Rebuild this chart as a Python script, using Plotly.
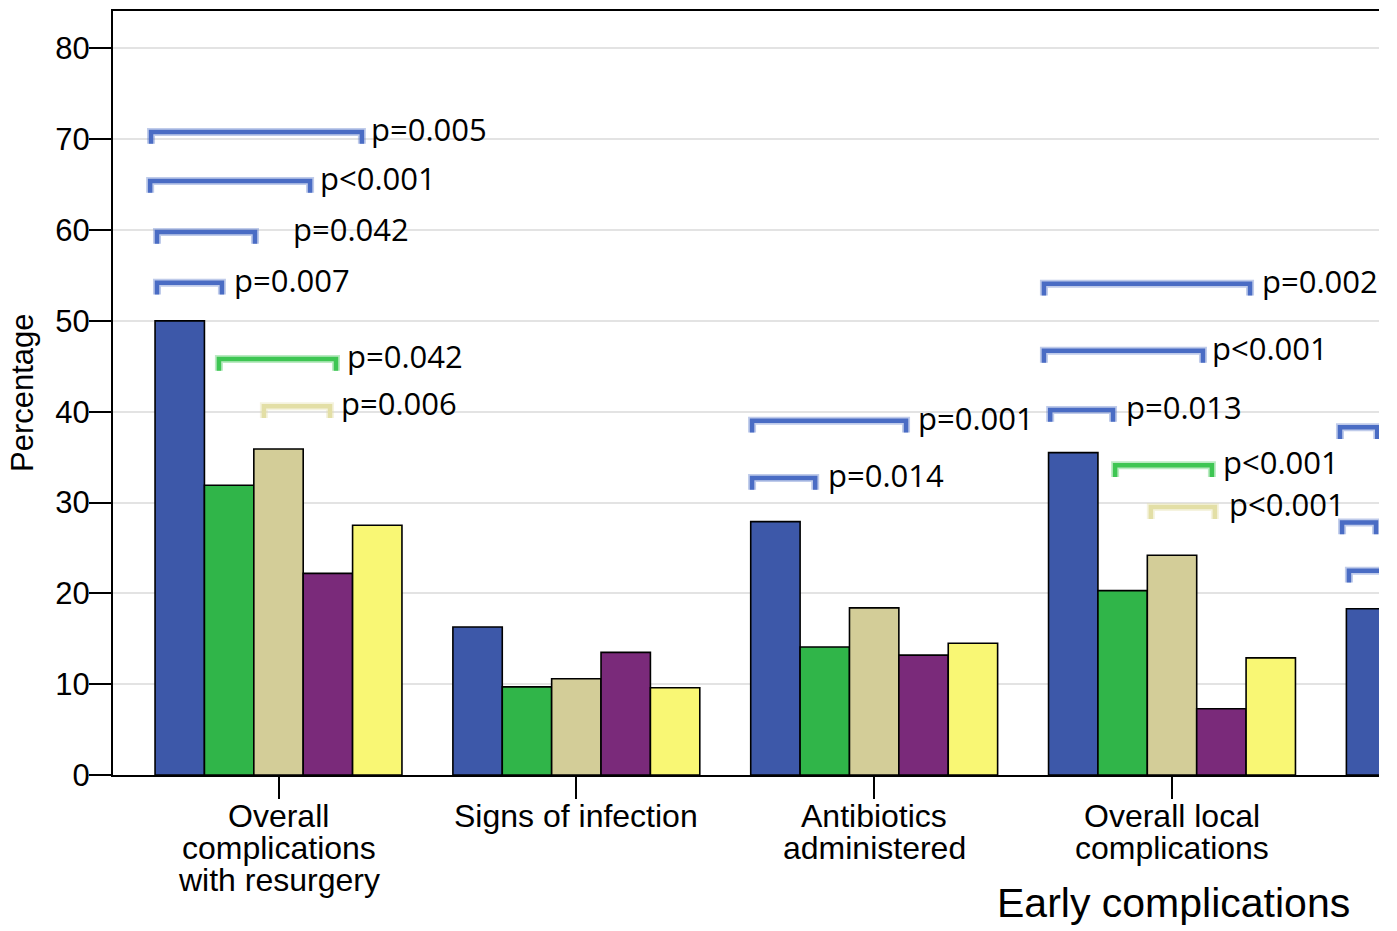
import numpy as np
import plotly.graph_objects as go

# Percentages per outcome category (five patient groups)
categories = [
    ["Overall", "complications", "with resurgery"],
    ["Signs of infection"],
    ["Antibiotics", "administered"],
    ["Overall local", "complications"],
]
group_a = [50.0, 16.3, 27.9, 35.5, 18.3]
group_b = [31.9, 9.7, 14.1, 20.3]
group_c = [35.9, 10.6, 18.4, 24.2]
group_d = [22.2, 13.5, 13.2, 7.3]
group_e = [27.5, 9.6, 14.5, 12.9]

series = [
    ("Group A", group_a, "#3d58a9"),
    ("Group B", group_b, "#30b549"),
    ("Group C", group_c, "#d3cd98"),
    ("Group D", group_d, "#7a2a7a"),
    ("Group E", group_e, "#f9f774"),
]

# Significance brackets: (x start, x end, level, label, colour, label x)
BLUE, GREEN, TAN = "#4a6cc4", "#3ec653", "#e3dfa6"
brackets = [
    (-0.428, 0.280, 70.8, "p=0.005", BLUE, 0.304),
    (-0.431, 0.106, 65.4, "p<0.001", BLUE, 0.133),
    (-0.408, -0.079, 59.8, "p=0.042", BLUE, 0.042),
    (-0.408, -0.190, 54.2, "p=0.007", BLUE, -0.156),
    (-0.200, 0.193, 45.8, "p=0.042", GREEN, 0.223),
    (-0.049, 0.173, 40.6, "p=0.006", TAN, 0.203),
    (1.590, 2.107, 39.0, "p=0.001", BLUE, 2.140),
    (1.590, 1.802, 32.7, "p=0.014", BLUE, 1.839),
    (2.570, 3.262, 54.1, "p=0.002", BLUE, 3.296),
    (2.570, 3.104, 46.7, "p<0.001", BLUE, 3.128),
    (2.591, 2.802, 40.2, "p=0.013", BLUE, 2.839),
    (2.809, 3.134, 34.1, "p<0.001", GREEN, 3.164),
    (2.929, 3.144, 29.5, "p<0.001", TAN, 3.185),
    (3.564, 3.689, 38.3, "", BLUE, None),
    (3.571, 3.685, 27.8, "", BLUE, None),
    (3.594, 3.800, 22.5, "", BLUE, None),
]
DROP = 1.3

fig = go.Figure()
for name, vals, col in series:
    fig.add_trace(go.Bar(
        x=np.arange(len(vals)), y=vals, name=name,
        marker=dict(color=col, line=dict(color="black", width=1.6)),
        showlegend=False,
    ))

shapes = []
annotations = []
for x0, x1, lvl, label, col, tx in brackets:
    path = f"M {x0},{lvl - DROP} L {x0},{lvl} L {x1},{lvl} L {x1},{lvl - DROP}"
    # soft halo under each bracket
    shapes.append(dict(type="path", path=path, xref="x", yref="y",
                       line=dict(color=col, width=8), opacity=0.35, layer="above"))
    shapes.append(dict(type="path", path=path, xref="x", yref="y",
                       line=dict(color=col, width=4.5), layer="above"))
    if label:
        annotations.append(dict(x=tx, y=lvl, xref="x", yref="y", text=label,
                                showarrow=False, xanchor="left", yanchor="middle",
                                yshift=3,
                                font=dict(family="Open Sans", size=31, color="black")))

# Category labels, one line per annotation for tight line spacing
for i, lines in enumerate(categories):
    for k, line in enumerate(lines):
        annotations.append(dict(x=i, y=0, xref="x", yref="paper", text=line,
                                showarrow=False, xanchor="center", yanchor="middle",
                                yshift=-(41 + 32 * k),
                                font=dict(family="Liberation Sans", size=32, color="black")))

annotations.append(dict(x=0.838, y=0, xref="paper", yref="paper", text="Early complications",
                        showarrow=False, xanchor="center", yanchor="middle", yshift=-128,
                        font=dict(family="Liberation Sans", size=41, color="black")))
annotations.append(dict(x=0, y=0.5, xref="paper", yref="paper", text="Percentage",
                        showarrow=False, xanchor="center", yanchor="middle", xshift=-91,
                        textangle=-90,
                        font=dict(family="Liberation Sans", size=31, color="black")))

fig.update_layout(
    width=1397, height=931,
    margin=dict(l=113, r=18, t=9, b=156),
    paper_bgcolor="white", plot_bgcolor="white",
    barmode="group", bargap=0.171, bargroupgap=0,
    shapes=shapes, annotations=annotations,
    xaxis=dict(range=[-0.5557, 3.695], tickvals=list(range(len(categories))),
               ticktext=[""] * len(categories), ticks="outside", ticklen=22,
               tickwidth=2, tickcolor="black", showline=True, linecolor="black",
               linewidth=2, mirror=True, showgrid=False, zeroline=False),
    yaxis=dict(range=[0, 84.12], tickvals=list(range(0, 81, 10)), ticks="outside",
               ticklen=22, tickwidth=2, tickcolor="black", showline=True,
               linecolor="black", linewidth=2, showgrid=True, gridcolor="#e3e3e3",
               gridwidth=1.5, zeroline=False, ticklabelstandoff=-7,
               tickfont=dict(family="Liberation Sans", size=31, color="black")),
)

fig.write_html("out.html")
